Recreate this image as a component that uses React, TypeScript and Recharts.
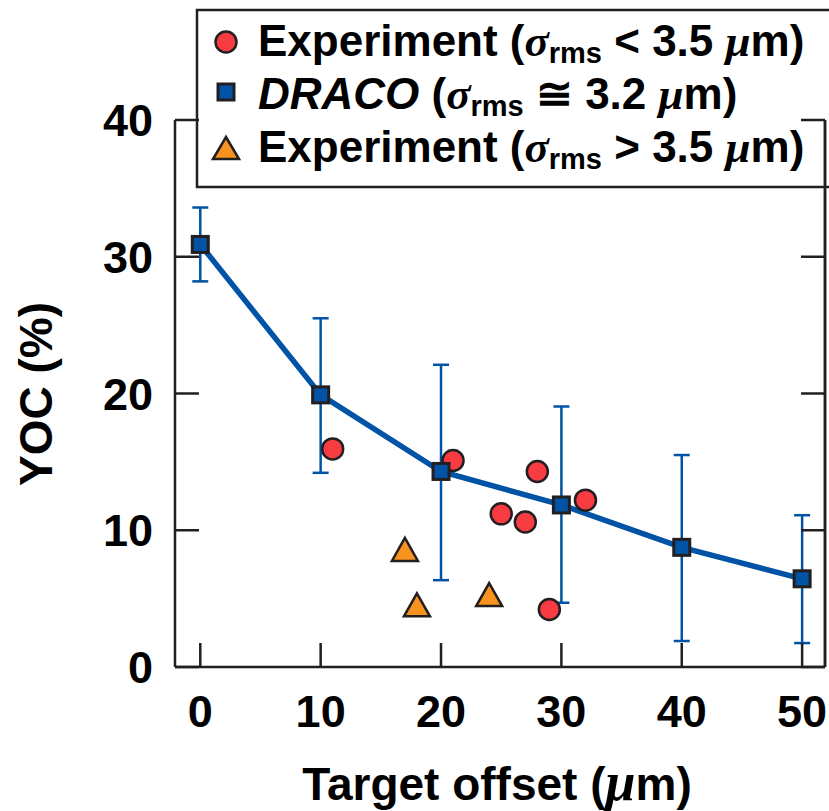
import React from 'react';
import { ComposedChart, Line, Scatter, XAxis, YAxis, ErrorBar, Customized, ReferenceLine } from 'recharts';

// ---- data ----
const offsets = [0, 10, 20, 30, 40, 50];
const dracoYoc = [30.9, 19.9, 14.3, 11.85, 8.75, 6.45];
const dracoLow = [28.2, 14.2, 6.35, 4.7, 1.9, 1.75];
const dracoHigh = [33.6, 25.5, 22.1, 19.05, 15.5, 11.1];

const expSmallX = [11, 21, 25, 27, 28, 29, 32];
const expSmallY = [15.95, 15.1, 11.2, 10.6, 14.3, 4.2, 12.2];

const expLargeX = [17, 18, 24];
const expLargeY = [8.6, 4.55, 5.3];

const xTicks = [0, 10, 20, 30, 40, 50];
const yTicks = [0, 10, 20, 30, 40];

// ---- styles ----
const BLUE = '#0053a5';
const RED = '#f93b42';
const ORANGE = '#f7931e';
const DARK = '#231f20';
const FONT = '"Liberation Sans", Arial, Helvetica, sans-serif';
const GREEK = '"Liberation Serif", "Times New Roman", serif';
const TICK_LEN = 24;

const dracoData = offsets.map((x, i) => ({
  x,
  y: dracoYoc[i],
  err: [dracoYoc[i] - dracoLow[i], dracoHigh[i] - dracoYoc[i]],
}));
const smallData = expSmallX.map((x, i) => ({ x, y: expSmallY[i] }));
const largeData = expLargeX.map((x, i) => ({ x, y: expLargeY[i] }));

const BottomTick = (props: any) => {
  const { x, y, payload } = props;
  return (
    <g>
      <line x1={x} y1={y} x2={x} y2={y - TICK_LEN} stroke={DARK} strokeWidth={2.5} />
      <text x={x} y={y + 60} textAnchor="middle" fontFamily={FONT} fontWeight="bold" fontSize={45} fill="#000">
        {payload.value}
      </text>
    </g>
  );
};

const LeftTick = (props: any) => {
  const { x, y, payload } = props;
  return (
    <g>
      <line x1={x} y1={y} x2={x + TICK_LEN} y2={y} stroke={DARK} strokeWidth={2.5} />
      <text x={x - 22} y={y + 16} textAnchor="end" fontFamily={FONT} fontWeight="bold" fontSize={45} fill="#000">
        {payload.value}
      </text>
    </g>
  );
};

const TopTick = (props: any) => {
  const { x, y } = props;
  return <line x1={x} y1={y} x2={x} y2={y + TICK_LEN} stroke={DARK} strokeWidth={2.5} />;
};

const RightTick = (props: any) => {
  const { x, y } = props;
  return <line x1={x} y1={y} x2={x - TICK_LEN} y2={y} stroke={DARK} strokeWidth={2.5} />;
};

const SquareShape = (props: any) => {
  const { cx, cy } = props;
  if (cx == null || cy == null) return null;
  return <rect x={cx - 8} y={cy - 8} width={16} height={16} fill={BLUE} stroke={DARK} strokeWidth={3} />;
};

const CircleShape = (props: any) => {
  const { cx, cy } = props;
  if (cx == null || cy == null) return null;
  return <circle cx={cx} cy={cy} r={10.5} fill={RED} stroke={DARK} strokeWidth={2.5} />;
};

const TriangleShape = (props: any) => {
  const { cx, cy } = props;
  if (cx == null || cy == null) return null;
  const w = 13;
  const h = 11.5;
  return (
    <polygon
      points={`${cx},${cy - h} ${cx + w},${cy + h} ${cx - w},${cy + h}`}
      fill={ORANGE}
      stroke={DARK}
      strokeWidth={2.5}
    />
  );
};

const LegendBox = () => {
  const tx = 258;
  const fs = 44;
  const sub = 29;
  const gk = 45;
  const row = (y: number, lead: React.ReactNode, op: string, val: string) => (
    <text x={tx} y={y} fontFamily={FONT} fontWeight="bold" fontSize={fs} fill="#000">
      {lead}
      <tspan> (</tspan>
      <tspan fontFamily={GREEK} fontStyle="italic" fontSize={gk}>σ</tspan>
      <tspan fontSize={sub} dy={7}>rms</tspan>
      <tspan dy={-7}>{` ${op} ${val} `}</tspan>
      <tspan fontFamily={GREEK} fontStyle="italic" fontSize={gk}>μ</tspan>
      <tspan>m)</tspan>
    </text>
  );
  return (
    <g>
      <rect x={197} y={10} width={700} height={177} fill="#fff" stroke={DARK} strokeWidth={2.5} />
      <circle cx={226} cy={42} r={10.5} fill={RED} stroke={DARK} strokeWidth={2.5} />
      <rect x={218} y={84} width={16} height={16} fill={BLUE} stroke={DARK} strokeWidth={3} />
      <polygon points="226,137 239,159 213,159" fill={ORANGE} stroke={DARK} strokeWidth={2.5} />
      {row(56, <tspan>Experiment</tspan>, '<', '3.5')}
      {row(109, <tspan fontStyle="italic">DRACO</tspan>, '≅', '3.2')}
      {row(162, <tspan>Experiment</tspan>, '>', '3.5')}
    </g>
  );
};

const AxisTitles = () => (
  <g>
    <text x={497} y={800} textAnchor="middle" fontFamily={FONT} fontWeight="bold" fontSize={46} fill="#000">
      Target offset (<tspan fontFamily={GREEK} fontStyle="italic" fontSize={54}>μ</tspan>m)
    </text>
    <text
      x={52}
      y={394}
      transform="rotate(-90, 52, 394)"
      textAnchor="middle"
      fontFamily={FONT}
      fontWeight="bold"
      fontSize={46}
      fill="#000"
    >
      YOC (%)
    </text>
  </g>
);

const xDomain: [number, number] = [-2.1, 51.9];
const yDomain: [number, number] = [0, 40];
const axisLine = { stroke: DARK, strokeWidth: 2.5 };

export default function App() {
  return (
    <div style={{ position: 'absolute', left: 0, top: 0, width: 829, height: 811, background: '#fff' }}>
      <ComposedChart width={829} height={811} margin={{ top: 120, right: 3, bottom: 0, left: 0 }}>
        <XAxis
          dataKey="x"
          type="number"
          domain={xDomain}
          ticks={xTicks}
          allowDataOverflow
          height={144}
          tickSize={0}
          tickMargin={0}
          tickLine={false}
          axisLine={axisLine}
          tick={BottomTick}
          interval={0}
        />
        <XAxis
          xAxisId="top"
          orientation="top"
          dataKey="x"
          type="number"
          domain={xDomain}
          ticks={xTicks}
          allowDataOverflow
          height={0}
          tickSize={0}
          tickMargin={0}
          tickLine={false}
          axisLine={axisLine}
          tick={TopTick}
          interval={0}
        />
        <YAxis
          type="number"
          domain={yDomain}
          ticks={yTicks}
          allowDataOverflow
          width={175}
          tickSize={0}
          tickMargin={0}
          tickLine={false}
          axisLine={axisLine}
          tick={LeftTick}
          interval={0}
        />
        <YAxis
          yAxisId="right"
          orientation="right"
          type="number"
          domain={yDomain}
          ticks={yTicks}
          allowDataOverflow
          width={1}
          tickSize={0}
          tickMargin={0}
          tickLine={false}
          axisLine={axisLine}
          tick={RightTick}
          interval={0}
        />
        <ReferenceLine x={xDomain[1]} stroke={DARK} strokeWidth={2.5} ifOverflow="visible" />
        <Line
          data={dracoData}
          dataKey="y"
          stroke={BLUE}
          strokeWidth={5.5}
          dot={false}
          activeDot={false}
          isAnimationActive={false}
        >
          <ErrorBar dataKey="err" direction="y" width={8} strokeWidth={2.5} stroke={BLUE} />
        </Line>
        <Scatter data={smallData} dataKey="y" shape={CircleShape} isAnimationActive={false} />
        <Scatter data={largeData} dataKey="y" shape={TriangleShape} isAnimationActive={false} />
        <Scatter data={dracoData} dataKey="y" shape={SquareShape} isAnimationActive={false} />
        <Customized component={AxisTitles} />
        <Customized component={LegendBox} />
      </ComposedChart>
    </div>
  );
}
